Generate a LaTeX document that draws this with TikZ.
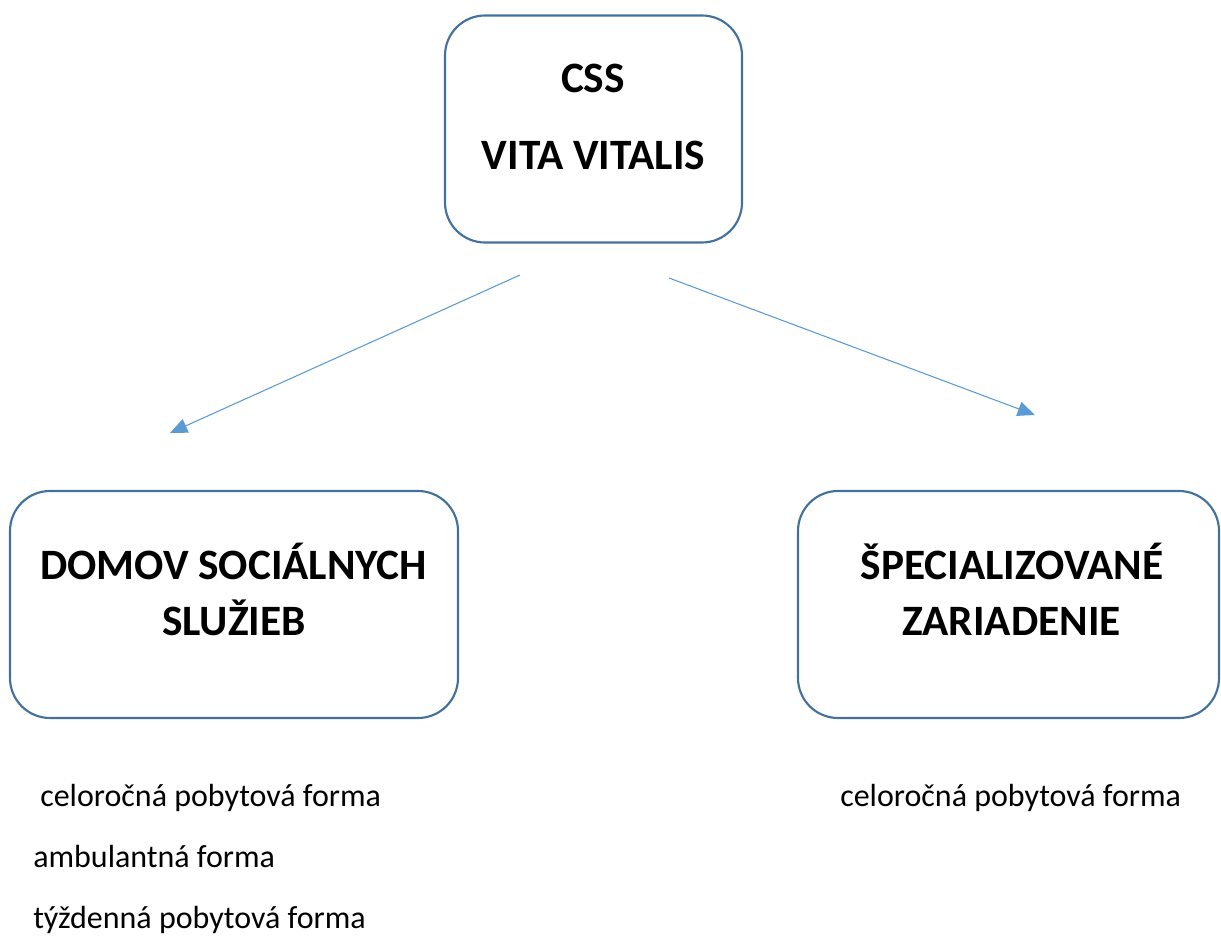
\documentclass[tikz,border=0pt]{standalone}
\usepackage{fontspec}
\setmainfont{Carlito}
\usetikzlibrary{arrows.meta}
\definecolor{boxblue}{RGB}{65,113,156}
\definecolor{arrowblue}{RGB}{91,155,213}

\begin{document}
\begin{tikzpicture}[x=0.75pt, y=-0.75pt,
    box/.style={draw=boxblue, line width=1.6pt, rounded corners=30pt, inner sep=0pt, outer sep=0pt},
    title/.style={font=\fontsize{32.5}{39}\selectfont\bfseries, anchor=base, inner sep=0pt},
    item/.style={font=\fontsize{24}{29}\selectfont, anchor=base west, inner sep=0pt},
    link/.style={draw=arrowblue, line width=0.8pt, -{Triangle[length=13pt, width=11pt]}}]
    \useasboundingbox (0,0) rectangle (1221,937);

    % Define the boxes
    \node[box, minimum width=222.75pt, minimum height=170.25pt] (css) at (593.5,129) {};
    \node[box, minimum width=336pt, minimum height=170.25pt] (dss) at (234,604.5) {};
    \node[box, minimum width=315.75pt, minimum height=170.25pt] (sz) at (1008.5,604.5) {};

    % Box titles
    \node[title] (css1) at (593,93) {CSS};
    \node[title] (css2) at (593.5,170) {VITA VITALIS};
    \node[title] (dss1) at (233.5,580) {DOMOV SOCIÁLNYCH};
    \node[title] (dss2) at (234,635) {SLUŽIEB};
    \node[title] (sz1) at (1012,580) {ŠPECIALIZOVANÉ};
    \node[title] (sz2) at (1011.5,635) {ZARIADENIE};

    % Draw the arrows
    \coordinate (lfrom) at (520,275);
    \coordinate (lto) at (170,433);
    \coordinate (rfrom) at (669,278);
    \coordinate (rto) at (1035,415);
    \draw[link] (lfrom) -- (lto);
    \draw[link] (rfrom) -- (rto);

    % Add the forms
    \node[item] (dssa) at (40,806) {celoročná pobytová forma};
    \node[item] (dssb) at (33,867) {ambulantná forma};
    \node[item] (dssc) at (33,928) {týždenná pobytová forma};
    \node[item] (sza) at (840,806) {celoročná pobytová forma};
\end{tikzpicture}
\end{document}
